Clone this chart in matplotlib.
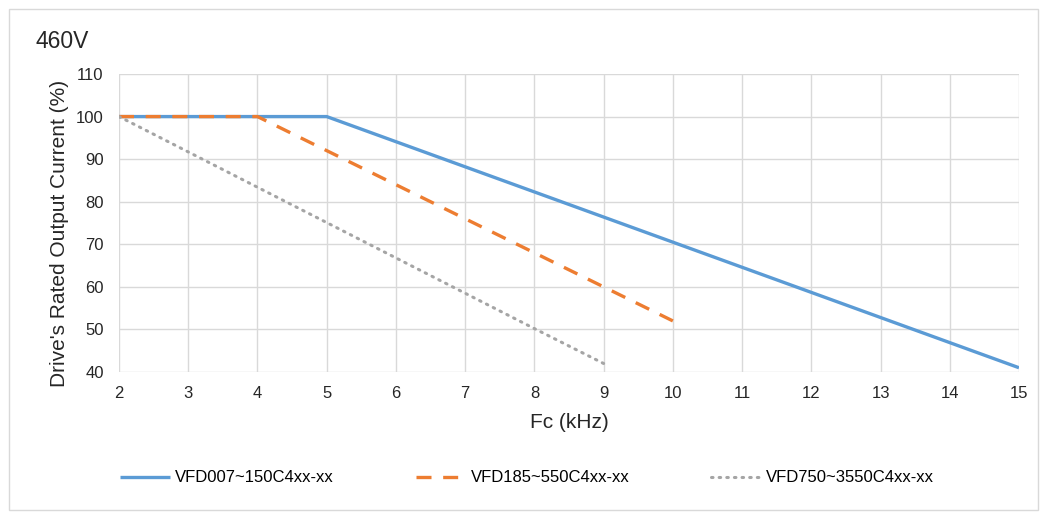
import numpy as np
import matplotlib.pyplot as plt
from matplotlib.patches import Rectangle

plt.rcParams['font.family'] = ['Liberation Sans', 'DejaVu Sans']

# carrier frequency (kHz) vs derating (%)
fc_a = [2, 3, 4, 5, 6, 7, 8, 9, 10, 11, 12, 13, 14, 15]
cur_a = [100, 100, 100, 100, 94.1, 88.2, 82.3, 76.4, 70.5, 64.6, 58.7, 52.8, 46.9, 41]

fc_b = [2, 3, 4, 5, 6, 7, 8, 9, 10]
cur_b = [100, 100, 100, 92, 84, 76, 68, 60, 52]

fc_c = [2, 3, 4, 5, 6, 7, 8, 9]
cur_c = [100, 91.7, 83.4, 75.1, 66.8, 58.5, 50.2, 42]

labels = ["VFD007~150C4xx-xx", "VFD185~550C4xx-xx", "VFD750~3550C4xx-xx"]

fig = plt.figure(figsize=(10.48, 5.17), dpi=100)
fig.patches.append(Rectangle((9/1048, 1 - 510/517), 1029/1048, 501/517,
                             transform=fig.transFigure, fill=False,
                             edgecolor="#d9d9d9", linewidth=1))
ax = fig.add_axes([119/1048, 1 - 372/517, 900/1048, 298/517])

ax.plot(fc_a, cur_a, color="#5B9BD5", lw=2.4, label=labels[0], solid_capstyle="butt")
ax.plot(fc_b, cur_b, color="#ED7D31", lw=2.4, ls=(0, (4.5, 3.5)), label=labels[1])
ax.plot(fc_c, cur_c, color="#A5A5A5", lw=2.2, ls=(0, (0.5, 2.0)), label=labels[2],
        dash_capstyle="round")

ax.set_xlim(2, 15)
ax.set_ylim(40, 110)
ax.set_xticks(np.arange(2, 16, 1))
ax.set_yticks(np.arange(40, 111, 10))
ax.grid(True, color="#d9d9d9", lw=1)
ax.set_axisbelow(True)
for s in ax.spines.values():
    s.set_visible(False)
ax.tick_params(length=0, labelsize=12, colors="#262626")
ax.tick_params(axis="x", pad=10)
ax.tick_params(axis="y", pad=11)

ax.set_xlabel("Fc (kHz)", fontsize=15, color="#262626", labelpad=9)
ax.set_ylabel("Drive's Rated Output Current (%)", fontsize=15, color="#262626", labelpad=5)
ax.yaxis.label.set_y(0.465)

fig.text(35/1048, 1 - 41/517, "460V", fontsize=16.5, color="#262626", va="center", ha="left")

fig.legend(loc="center", bbox_to_anchor=(0.503, 1 - 478/517), ncol=3, frameon=False,
           fontsize=12, handlelength=3.0, columnspacing=4.9, handletextpad=0.3)

fig.savefig("out.png", dpi=100)
